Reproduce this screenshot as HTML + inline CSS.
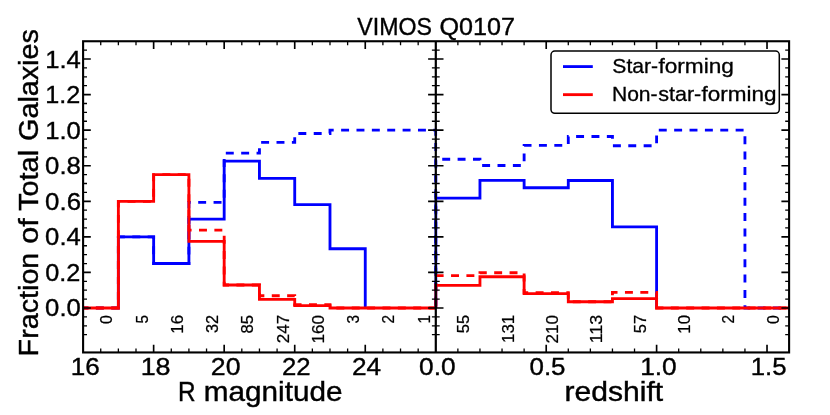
<!DOCTYPE html>
<html><head><meta charset="utf-8"><title>VIMOS Q0107</title>
<style>
html,body{margin:0;padding:0;background:#fff;}
body{width:830px;height:415px;overflow:hidden;font-family:"Liberation Sans",sans-serif;}
svg{display:block;will-change:transform;}
text{font-family:"Liberation Sans",sans-serif;fill:#000;}
</style></head><body>
<svg width="830" height="415" viewBox="0 0 830 415">
<rect x="0" y="0" width="830" height="415" fill="#ffffff"/>
<defs><clipPath id="cl"><rect x="81.60" y="41.25" width="355.70" height="311.20"/></clipPath><clipPath id="cr"><rect x="434.30" y="41.25" width="356.30" height="311.20"/></clipPath></defs>
<g clip-path="url(#cl)">
<path d="M118.37 307.99 L118.37 236.86 L153.64 236.86 L153.64 263.54 L188.91 263.54 L188.91 219.08 L224.18 219.08 L224.18 161.11 L259.45 161.11 L259.45 178.40 L294.72 178.40 L294.72 204.63 L329.99 204.63 L329.99 248.72 L365.26 248.72 L365.26 307.99" fill="none" stroke="#0000ff" stroke-width="2.85" stroke-linejoin="miter" stroke-linecap="butt"/>
<path d="M83.10 307.99 L118.37 307.99 L118.37 236.86 L153.64 236.86 L153.64 263.54 L188.91 263.54 L188.91 202.41 L224.18 202.41 L224.18 153.18 L259.45 153.18 L259.45 142.40 L294.72 142.40 L294.72 133.50 L329.99 133.50 L329.99 130.16 L365.26 130.16 L400.53 130.16 L435.80 130.16 L435.80 307.99" fill="none" stroke="#0000ff" stroke-width="2.85" stroke-linejoin="miter" stroke-linecap="butt" stroke-dasharray="7.95 7.42" stroke-dashoffset="2.63"/>
<path d="M83.10 307.99 L118.37 307.99 L118.37 201.30 L153.64 201.30 L153.64 174.62 L188.91 174.62 L188.91 241.31 L224.18 241.31 L224.18 284.98 L259.45 284.98 L259.45 299.35 L294.72 299.35 L294.72 305.59 L329.99 305.59 L329.99 307.99 L365.26 307.99 L400.53 307.99 L435.80 307.99" fill="none" stroke="#ff0000" stroke-width="2.85" stroke-linejoin="miter" stroke-linecap="butt"/>
<path d="M83.10 307.99 L118.37 307.99 L118.37 201.30 L153.64 201.30 L153.64 174.62 L188.91 174.62 L188.91 230.19 L224.18 230.19 L224.18 284.98 L259.45 284.98 L259.45 295.75 L294.72 295.75 L294.72 304.66 L329.99 304.66 L329.99 307.99 L365.26 307.99 L400.53 307.99 L435.80 307.99" fill="none" stroke="#ff0000" stroke-width="2.85" stroke-linejoin="miter" stroke-linecap="butt" stroke-dasharray="7.95 7.42" stroke-dashoffset="2.56"/>
</g><g clip-path="url(#cr)">
<path d="M435.80 307.99 L435.80 198.06 L479.96 198.06 L479.96 180.39 L524.12 180.39 L524.12 187.75 L568.29 187.75 L568.29 180.52 L612.45 180.52 L612.45 226.88 L656.61 226.88 L656.61 307.99" fill="none" stroke="#0000ff" stroke-width="2.85" stroke-linejoin="miter" stroke-linecap="butt"/>
<path d="M435.80 307.99 L435.80 159.26 L479.96 159.26 L479.96 165.46 L524.12 165.46 L524.12 145.41 L568.29 145.41 L568.29 136.46 L612.45 136.46 L612.45 145.76 L656.61 145.76 L656.61 130.16 L700.77 130.16 L744.94 130.16 L744.94 307.99 L789.10 307.99" fill="none" stroke="#0000ff" stroke-width="2.85" stroke-linejoin="miter" stroke-linecap="butt" stroke-dasharray="7.95 7.42" stroke-dashoffset="13.91"/>
<path d="M435.80 307.99 L435.80 285.36 L479.96 285.36 L479.96 276.77 L524.12 276.77 L524.12 293.60 L568.29 293.60 L568.29 301.70 L612.45 301.70 L612.45 298.63 L656.61 298.63 L656.61 307.99 L700.77 307.99 L744.94 307.99 L789.10 307.99" fill="none" stroke="#ff0000" stroke-width="2.85" stroke-linejoin="miter" stroke-linecap="butt"/>
<path d="M435.80 307.99 L435.80 275.66 L479.96 275.66 L479.96 272.70 L524.12 272.70 L524.12 292.75 L568.29 292.75 L568.29 301.70 L612.45 301.70 L612.45 292.39 L656.61 292.39 L656.61 307.99 L700.77 307.99 L744.94 307.99 L789.10 307.99" fill="none" stroke="#ff0000" stroke-width="2.85" stroke-linejoin="miter" stroke-linecap="butt" stroke-dasharray="7.95 7.42" stroke-dashoffset="13.91"/>
</g>
<path d="M83.10 334.67H87.00M431.90 334.67H439.70M785.20 334.67H789.10M83.10 325.78H87.00M431.90 325.78H439.70M785.20 325.78H789.10M83.10 316.88H87.00M431.90 316.88H439.70M785.20 316.88H789.10M83.10 299.10H87.00M431.90 299.10H439.70M785.20 299.10H789.10M83.10 290.21H87.00M431.90 290.21H439.70M785.20 290.21H789.10M83.10 281.32H87.00M431.90 281.32H439.70M785.20 281.32H789.10M83.10 263.54H87.00M431.90 263.54H439.70M785.20 263.54H789.10M83.10 254.64H87.00M431.90 254.64H439.70M785.20 254.64H789.10M83.10 245.75H87.00M431.90 245.75H439.70M785.20 245.75H789.10M83.10 227.97H87.00M431.90 227.97H439.70M785.20 227.97H789.10M83.10 219.08H87.00M431.90 219.08H439.70M785.20 219.08H789.10M83.10 210.19H87.00M431.90 210.19H439.70M785.20 210.19H789.10M83.10 192.40H87.00M431.90 192.40H439.70M785.20 192.40H789.10M83.10 183.51H87.00M431.90 183.51H439.70M785.20 183.51H789.10M83.10 174.62H87.00M431.90 174.62H439.70M785.20 174.62H789.10M83.10 156.84H87.00M431.90 156.84H439.70M785.20 156.84H789.10M83.10 147.95H87.00M431.90 147.95H439.70M785.20 147.95H789.10M83.10 139.06H87.00M431.90 139.06H439.70M785.20 139.06H789.10M83.10 121.27H87.00M431.90 121.27H439.70M785.20 121.27H789.10M83.10 112.38H87.00M431.90 112.38H439.70M785.20 112.38H789.10M83.10 103.49H87.00M431.90 103.49H439.70M785.20 103.49H789.10M83.10 85.71H87.00M431.90 85.71H439.70M785.20 85.71H789.10M83.10 76.82H87.00M431.90 76.82H439.70M785.20 76.82H789.10M83.10 67.92H87.00M431.90 67.92H439.70M785.20 67.92H789.10M83.10 50.14H87.00M431.90 50.14H439.70M785.20 50.14H789.10M100.73 348.55V352.45M100.73 41.25V45.15M118.37 348.55V352.45M118.37 41.25V45.15M136.00 348.55V352.45M136.00 41.25V45.15M171.28 348.55V352.45M171.28 41.25V45.15M188.91 348.55V352.45M188.91 41.25V45.15M206.55 348.55V352.45M206.55 41.25V45.15M241.81 348.55V352.45M241.81 41.25V45.15M259.45 348.55V352.45M259.45 41.25V45.15M277.09 348.55V352.45M277.09 41.25V45.15M312.36 348.55V352.45M312.36 41.25V45.15M329.99 348.55V352.45M329.99 41.25V45.15M347.62 348.55V352.45M347.62 41.25V45.15M382.89 348.55V352.45M382.89 41.25V45.15M400.53 348.55V352.45M400.53 41.25V45.15M418.17 348.55V352.45M418.17 41.25V45.15M457.88 348.55V352.45M457.88 41.25V45.15M479.96 348.55V352.45M479.96 41.25V45.15M502.04 348.55V352.45M502.04 41.25V45.15M524.12 348.55V352.45M524.12 41.25V45.15M568.29 348.55V352.45M568.29 41.25V45.15M590.37 348.55V352.45M590.37 41.25V45.15M612.45 348.55V352.45M612.45 41.25V45.15M634.53 348.55V352.45M634.53 41.25V45.15M678.69 348.55V352.45M678.69 41.25V45.15M700.78 348.55V352.45M700.78 41.25V45.15M722.86 348.55V352.45M722.86 41.25V45.15M744.94 348.55V352.45M744.94 41.25V45.15" stroke="#000" stroke-width="1.30" fill="none"/>
<path d="M83.10 307.99H90.80M428.10 307.99H443.50M781.40 307.99H789.10M83.10 272.43H90.80M428.10 272.43H443.50M781.40 272.43H789.10M83.10 236.86H90.80M428.10 236.86H443.50M781.40 236.86H789.10M83.10 201.30H90.80M428.10 201.30H443.50M781.40 201.30H789.10M83.10 165.73H90.80M428.10 165.73H443.50M781.40 165.73H789.10M83.10 130.16H90.80M428.10 130.16H443.50M781.40 130.16H789.10M83.10 94.60H90.80M428.10 94.60H443.50M781.40 94.60H789.10M83.10 59.03H90.80M428.10 59.03H443.50M781.40 59.03H789.10M153.64 344.75V352.45M153.64 41.25V48.95M224.18 344.75V352.45M224.18 41.25V48.95M294.72 344.75V352.45M294.72 41.25V48.95M365.26 344.75V352.45M365.26 41.25V48.95M546.21 344.75V352.45M546.21 41.25V48.95M656.61 344.75V352.45M656.61 41.25V48.95M767.02 344.75V352.45M767.02 41.25V48.95" stroke="#000" stroke-width="1.65" fill="none"/>
<rect x="83.10" y="41.25" width="706.00" height="311.20" fill="none" stroke="#000" stroke-width="2.10"/>
<path d="M435.80 41.25V352.45" stroke="#000" stroke-width="2.20"/>
<rect x="551.0" y="51.1" width="228.3" height="62.2" rx="3.8" ry="3.8" fill="#fff" stroke="#000" stroke-width="1.5"/>
<path d="M563 66.6H592.8" stroke="#0000ff" stroke-width="2.85"/>
<path d="M563 94.65H592.8" stroke="#ff0000" stroke-width="2.85"/>
<text transform="translate(357.30 35.00) scale(0.9576 1)" x="0.00" y="0" font-size="24.16" stroke="#000" stroke-width="0.36">VIMOS</text>
<text transform="translate(440.68 35.00) scale(1.0421 1)" x="-1.09" y="0" font-size="24.16" stroke="#000" stroke-width="0.36">Q0107</text>
<text transform="translate(179.90 401.10) scale(0.8907 1)" x="-2.19" y="0" font-size="27.32" stroke="#000" stroke-width="0.41">R</text>
<text transform="translate(205.77 401.10) scale(1.0869 1)" x="-1.78" y="0" font-size="27.32" stroke="#000" stroke-width="0.41">magnitude</text>
<text transform="translate(566.55 401.00) scale(1.1014 1)" x="-1.78" y="0" font-size="27.32" stroke="#000" stroke-width="0.41">redshift</text>
<text transform="translate(37.60 354.10) rotate(-90) scale(1.0430 1)" x="-2.20" y="0" font-size="27.54" stroke="#000" stroke-width="0.41">Fraction</text>
<text transform="translate(37.60 242.44) rotate(-90) scale(1.1070 1)" x="-1.10" y="0" font-size="27.54" stroke="#000" stroke-width="0.41">of</text>
<text transform="translate(37.60 210.41) rotate(-90) scale(1.0508 1)" x="-0.55" y="0" font-size="27.54" stroke="#000" stroke-width="0.41">Total</text>
<text transform="translate(37.60 139.48) rotate(-90) scale(1.0437 1)" x="-1.38" y="0" font-size="27.54" stroke="#000" stroke-width="0.41">Galaxies</text>
<text transform="translate(72.70 375.10) scale(1.0534 1)" x="-1.86" y="0" font-size="24.78" stroke="#000" stroke-width="0.37">16</text>
<text transform="translate(142.65 375.10) scale(1.0878 1)" x="-1.86" y="0" font-size="24.78" stroke="#000" stroke-width="0.37">18</text>
<text transform="translate(212.20 375.10) scale(1.0777 1)" x="-1.24" y="0" font-size="24.78" stroke="#000" stroke-width="0.37">20</text>
<text transform="translate(283.25 375.10) scale(1.0386 1)" x="-1.24" y="0" font-size="24.78" stroke="#000" stroke-width="0.37">22</text>
<text transform="translate(353.30 375.10) scale(1.0595 1)" x="-1.24" y="0" font-size="24.78" stroke="#000" stroke-width="0.37">24</text>
<text transform="translate(419.95 375.10) scale(1.0618 1)" x="-0.87" y="0" font-size="24.78" stroke="#000" stroke-width="0.37">0.0</text>
<text transform="translate(530.40 375.10) scale(1.0474 1)" x="-0.87" y="0" font-size="24.78" stroke="#000" stroke-width="0.37">0.5</text>
<text transform="translate(642.10 375.10) scale(1.0634 1)" x="-1.86" y="0" font-size="24.78" stroke="#000" stroke-width="0.37">1.0</text>
<text transform="translate(752.65 375.10) scale(1.0407 1)" x="-1.86" y="0" font-size="24.78" stroke="#000" stroke-width="0.37">1.5</text>
<text transform="translate(46.01 316.49) scale(1.0364 1)" x="-0.87" y="0" font-size="24.78" stroke="#000" stroke-width="0.37">0.0</text>
<text transform="translate(46.01 280.93) scale(1.0193 1)" x="-0.87" y="0" font-size="24.78" stroke="#000" stroke-width="0.37">0.2</text>
<text transform="translate(46.01 245.36) scale(1.0357 1)" x="-0.87" y="0" font-size="24.78" stroke="#000" stroke-width="0.37">0.4</text>
<text transform="translate(46.01 209.80) scale(1.0422 1)" x="-0.87" y="0" font-size="24.78" stroke="#000" stroke-width="0.37">0.6</text>
<text transform="translate(46.01 174.23) scale(1.0386 1)" x="-0.87" y="0" font-size="24.78" stroke="#000" stroke-width="0.37">0.8</text>
<text transform="translate(47.05 138.66) scale(1.0359 1)" x="-1.86" y="0" font-size="24.78" stroke="#000" stroke-width="0.37">1.0</text>
<text transform="translate(47.05 103.10) scale(1.0182 1)" x="-1.86" y="0" font-size="24.78" stroke="#000" stroke-width="0.37">1.2</text>
<text transform="translate(47.05 67.53) scale(1.0351 1)" x="-1.86" y="0" font-size="24.78" stroke="#000" stroke-width="0.37">1.4</text>
<text transform="translate(613.30 73.20) scale(1.0678 1)" x="-0.89" y="0" font-size="19.79" stroke="#000" stroke-width="0.30">Star-</text>
<text transform="translate(658.61 73.20) scale(1.1459 1)" x="-0.20" y="0" font-size="19.79" stroke="#000" stroke-width="0.30">forming</text>
<text transform="translate(613.60 101.00) scale(1.0649 1)" x="-1.58" y="0" font-size="19.79" stroke="#000" stroke-width="0.30">Non-</text>
<text transform="translate(658.72 101.00) scale(1.0874 1)" x="-0.49" y="0" font-size="19.79" stroke="#000" stroke-width="0.30">star-</text>
<text transform="translate(701.69 101.00) scale(1.1379 1)" x="-0.20" y="0" font-size="19.79" stroke="#000" stroke-width="0.30">forming</text>
<text transform="translate(112.28 323.33) rotate(-90) scale(0.9749 1)" x="-0.57" y="0" font-size="16.34" stroke="#000" stroke-width="0.25">0</text>
<text transform="translate(147.56 322.83) rotate(-90) scale(0.9314 1)" x="-0.65" y="0" font-size="16.34" stroke="#000" stroke-width="0.25">5</text>
<text transform="translate(182.83 332.43) rotate(-90) scale(1.0339 1)" x="-1.23" y="0" font-size="16.34" stroke="#000" stroke-width="0.25">16</text>
<text transform="translate(218.10 332.39) rotate(-90) scale(0.9966 1)" x="-0.57" y="0" font-size="16.34" stroke="#000" stroke-width="0.25">32</text>
<text transform="translate(253.37 332.74) rotate(-90) scale(1.0170 1)" x="-0.65" y="0" font-size="16.34" stroke="#000" stroke-width="0.25">85</text>
<text transform="translate(288.64 342.38) rotate(-90) scale(1.0421 1)" x="-0.82" y="0" font-size="16.34" stroke="#000" stroke-width="0.25">247</text>
<text transform="translate(323.91 342.11) rotate(-90) scale(1.0417 1)" x="-1.23" y="0" font-size="16.34" stroke="#000" stroke-width="0.25">160</text>
<text transform="translate(359.18 322.94) rotate(-90) scale(0.9363 1)" x="-0.57" y="0" font-size="16.34" stroke="#000" stroke-width="0.25">3</text>
<text transform="translate(394.44 322.68) rotate(-90) scale(0.9414 1)" x="-0.82" y="0" font-size="16.34" stroke="#000" stroke-width="0.25">2</text>
<text transform="translate(429.72 322.26) rotate(-90) scale(0.9363 1)" x="-1.23" y="0" font-size="16.34" stroke="#000" stroke-width="0.25">1</text>
<text transform="translate(469.43 332.58) rotate(-90) scale(1.0079 1)" x="-0.65" y="0" font-size="16.34" stroke="#000" stroke-width="0.25">55</text>
<text transform="translate(513.59 341.72) rotate(-90) scale(1.0333 1)" x="-1.23" y="0" font-size="16.34" stroke="#000" stroke-width="0.25">131</text>
<text transform="translate(557.76 342.68) rotate(-90) scale(1.0474 1)" x="-0.82" y="0" font-size="16.34" stroke="#000" stroke-width="0.25">210</text>
<text transform="translate(601.92 341.88) rotate(-90) scale(1.0880 1)" x="-1.23" y="0" font-size="16.34" stroke="#000" stroke-width="0.25">113</text>
<text transform="translate(646.08 332.58) rotate(-90) scale(1.0128 1)" x="-0.65" y="0" font-size="16.34" stroke="#000" stroke-width="0.25">57</text>
<text transform="translate(690.24 332.39) rotate(-90) scale(1.0264 1)" x="-1.23" y="0" font-size="16.34" stroke="#000" stroke-width="0.25">10</text>
<text transform="translate(734.41 322.68) rotate(-90) scale(0.9414 1)" x="-0.82" y="0" font-size="16.34" stroke="#000" stroke-width="0.25">2</text>
<text transform="translate(778.57 323.33) rotate(-90) scale(0.9749 1)" x="-0.57" y="0" font-size="16.34" stroke="#000" stroke-width="0.25">0</text>
</svg>
</body></html>
